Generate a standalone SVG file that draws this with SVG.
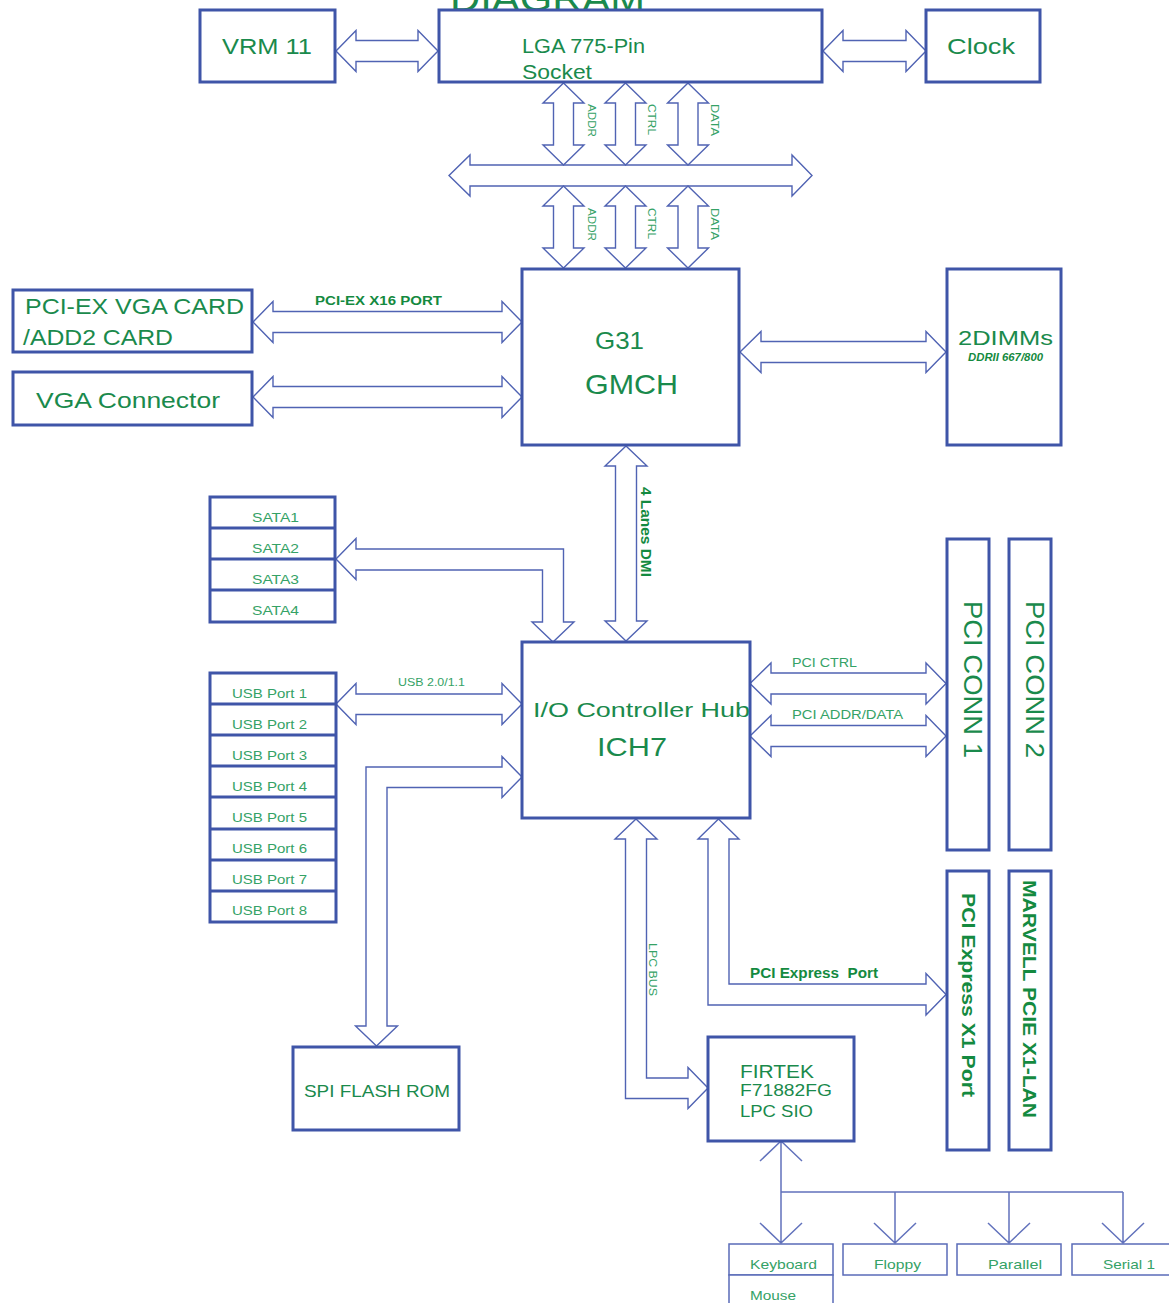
<svg xmlns="http://www.w3.org/2000/svg" width="1169" height="1303" viewBox="0 0 1169 1303">
<style>
.box{fill:#fff;stroke:#3F55A8;stroke-width:3}
.sbox{fill:#fff;stroke:#5A6BB8;stroke-width:1.5}
.div{stroke:#3F55A8;stroke-width:3}
.arr{fill:#fff;stroke:#5063B3;stroke-width:1.4;stroke-linejoin:miter}
.ln{fill:none;stroke:#6272BC;stroke-width:1.5}
text{font-family:"Liberation Sans",Arial,sans-serif;fill:#1A8A4C}
.s{fill:#35A266}
.b{font-weight:bold;fill:#148A40}
</style>
<rect width="1169" height="1303" fill="#fff"/>
<text x="450" y="11" font-size="36" textLength="195" lengthAdjust="spacingAndGlyphs">DIAGRAM</text>
<g id="connectors">
<path class="arr" d="M336,51 L356,30.5 L356,40.5 L418,40.5 L418,30.5 L438,51 L418,71.5 L418,61.5 L356,61.5 L356,71.5 Z"/>
<path class="arr" d="M823,51 L843,30.5 L843,40.5 L906,40.5 L906,30.5 L926,51 L906,71.5 L906,61.5 L843,61.5 L843,71.5 Z"/>
<path class="arr" d="M449,175.5 L470,155 L470,165 L792,165 L792,155 L812,175.5 L792,196 L792,186 L470,186 L470,196 Z"/>
<path class="arr" d="M563.5,83 L584,103 L573.5,103 L573.5,145 L584,145 L563.5,165 L543,145 L553.5,145 L553.5,103 L543,103 Z"/>
<path class="arr" d="M625.5,83 L646,103 L635.5,103 L635.5,145 L646,145 L625.5,165 L605,145 L615.5,145 L615.5,103 L605,103 Z"/>
<path class="arr" d="M688,83 L708.5,103 L698,103 L698,145 L708.5,145 L688,165 L667.5,145 L678,145 L678,103 L667.5,103 Z"/>
<path class="arr" d="M563.5,186 L584,206 L573.5,206 L573.5,248 L584,248 L563.5,268 L543,248 L553.5,248 L553.5,206 L543,206 Z"/>
<path class="arr" d="M625.5,186 L646,206 L635.5,206 L635.5,248 L646,248 L625.5,268 L605,248 L615.5,248 L615.5,206 L605,206 Z"/>
<path class="arr" d="M688,186 L708.5,206 L698,206 L698,248 L708.5,248 L688,268 L667.5,248 L678,248 L678,206 L667.5,206 Z"/>
<path class="arr" d="M253,322 L273,301.5 L273,311.5 L502,311.5 L502,301.5 L522,322 L502,342.5 L502,332.5 L273,332.5 L273,342.5 Z"/>
<path class="arr" d="M253,397 L273,376.5 L273,386.5 L502,386.5 L502,376.5 L522,397 L502,417.5 L502,407.5 L273,407.5 L273,417.5 Z"/>
<path class="arr" d="M740,352 L761,331.5 L761,341.5 L926,341.5 L926,331.5 L946,352 L926,372.5 L926,362.5 L761,362.5 L761,372.5 Z"/>
<path class="arr" d="M626,446 L647,466 L636.5,466 L636.5,621 L647,621 L626,641 L605,621 L615.5,621 L615.5,466 L605,466 Z"/>
<path class="arr" d="M336,559 L356,538.5 L356,549 L563.5,549 L563.5,622 L574,622 L553,642 L532,622 L542.5,622 L542.5,570 L356,570 L356,579.5 Z"/>
<path class="arr" d="M336,704 L356,683.5 L356,694 L502,694 L502,683.5 L522,704 L502,724.5 L502,714.5 L356,714.5 L356,724.5 Z"/>
<path class="arr" d="M522,777 L502,756.5 L502,767 L366,767 L366,1026 L355.5,1026 L376.5,1046 L397.5,1026 L387,1026 L387,787.5 L502,787.5 L502,797.5 Z"/>
<path class="arr" d="M750,683.5 L771,663 L771,673 L926,673 L926,663 L946,683.5 L926,704 L926,694 L771,694 L771,704 Z"/>
<path class="arr" d="M750,736 L771,715.5 L771,725.5 L926,725.5 L926,715.5 L946,736 L926,756.5 L926,746.5 L771,746.5 L771,756.5 Z"/>
<path class="arr" d="M636,819 L657,839 L646.5,839 L646.5,1078 L688,1078 L688,1067.5 L708,1088 L688,1108.5 L688,1098.5 L625.5,1098.5 L625.5,839 L615,839 Z"/>
<path class="arr" d="M718.5,819 L739,839 L729,839 L729,984 L926,984 L926,973.5 L946,994.5 L926,1015 L926,1005 L708,1005 L708,839 L698,839 Z"/>
<path class="ln" d="M781,1141 L781,1243 M760,1161 L781,1141 L802,1161 M781,1192 L1123,1192 M895,1192 L895,1243 M1009,1192 L1009,1243 M1123,1192 L1123,1243 M760,1223 L781,1243 L802,1223 M874,1223 L895,1243 L916,1223 M988,1223 L1009,1243 L1030,1223 M1102,1223 L1123,1243 L1144,1223"/>
</g>
<g id="vrm"><rect class="box" x="200" y="10" width="135" height="72"/><text x="222" y="54" font-size="22" textLength="90" lengthAdjust="spacingAndGlyphs">VRM 11</text></g>
<g id="cpu"><rect class="box" x="439" y="10" width="383" height="72"/><text x="522" y="53" font-size="20" textLength="123" lengthAdjust="spacingAndGlyphs">LGA 775-Pin</text><text x="522" y="79" font-size="20" textLength="70" lengthAdjust="spacingAndGlyphs">Socket</text></g>
<g id="clock"><rect class="box" x="926" y="10" width="114" height="72"/><text x="947" y="54" font-size="22" textLength="68" lengthAdjust="spacingAndGlyphs">Clock</text></g>
<g id="buslabels">
<text class="s" transform="translate(588,104) rotate(90)" font-size="11" textLength="33" lengthAdjust="spacingAndGlyphs">ADDR</text>
<text class="s" transform="translate(648,104) rotate(90)" font-size="11" textLength="31" lengthAdjust="spacingAndGlyphs">CTRL</text>
<text class="s" transform="translate(711,104) rotate(90)" font-size="11" textLength="32" lengthAdjust="spacingAndGlyphs">DATA</text>
<text class="s" transform="translate(588,208) rotate(90)" font-size="11" textLength="33" lengthAdjust="spacingAndGlyphs">ADDR</text>
<text class="s" transform="translate(648,208) rotate(90)" font-size="11" textLength="31" lengthAdjust="spacingAndGlyphs">CTRL</text>
<text class="s" transform="translate(711,208) rotate(90)" font-size="11" textLength="32" lengthAdjust="spacingAndGlyphs">DATA</text>
<text class="b" x="315" y="305" font-size="13" textLength="127" lengthAdjust="spacingAndGlyphs">PCI-EX X16 PORT</text>
<text class="b" transform="translate(641,487) rotate(90)" font-size="14" textLength="90" lengthAdjust="spacingAndGlyphs">4 Lanes DMI</text>
<text class="s" x="398" y="686" font-size="11" textLength="67" lengthAdjust="spacingAndGlyphs">USB 2.0/1.1</text>
<text class="s" x="792" y="667" font-size="13" textLength="65" lengthAdjust="spacingAndGlyphs">PCI CTRL</text>
<text class="s" x="792" y="719" font-size="13" textLength="111" lengthAdjust="spacingAndGlyphs">PCI ADDR/DATA</text>
<text class="s" transform="translate(649,943) rotate(90)" font-size="11" textLength="53" lengthAdjust="spacingAndGlyphs">LPC BUS</text>
<text class="b" x="750" y="978" font-size="14" xml:space="preserve" textLength="128" lengthAdjust="spacingAndGlyphs">PCI Express  Port</text>
</g>
<g id="pciex"><rect class="box" x="13" y="290" width="239" height="62"/><text x="25" y="314" font-size="22" textLength="219" lengthAdjust="spacingAndGlyphs">PCI-EX VGA CARD</text><text x="23" y="345" font-size="22" textLength="150" lengthAdjust="spacingAndGlyphs">/ADD2 CARD</text></g>
<g id="vga"><rect class="box" x="13" y="372" width="239" height="53"/><text x="36" y="408" font-size="22" textLength="184" lengthAdjust="spacingAndGlyphs">VGA Connector</text></g>
<g id="gmch"><rect class="box" x="522" y="269" width="217" height="176"/><text x="595" y="349" font-size="24" textLength="49" lengthAdjust="spacingAndGlyphs">G31</text><text x="585" y="394" font-size="28" textLength="93" lengthAdjust="spacingAndGlyphs">GMCH</text></g>
<g id="dimm"><rect class="box" x="947" y="269" width="114" height="176"/><text x="958" y="345" font-size="21" textLength="95" lengthAdjust="spacingAndGlyphs">2DIMMs</text><text class="b" x="968" y="361" font-size="11" font-style="italic" textLength="75" lengthAdjust="spacingAndGlyphs">DDRII 667/800</text></g>
<g id="sata"><rect class="box" x="210" y="497" width="125" height="125"/><line class="div" x1="210" y1="528" x2="335" y2="528"/><line class="div" x1="210" y1="559" x2="335" y2="559"/><line class="div" x1="210" y1="590" x2="335" y2="590"/>
<text class="s" x="252" y="522" font-size="13" textLength="47" lengthAdjust="spacingAndGlyphs">SATA1</text><text class="s" x="252" y="553" font-size="13" textLength="47" lengthAdjust="spacingAndGlyphs">SATA2</text><text class="s" x="252" y="584" font-size="13" textLength="47" lengthAdjust="spacingAndGlyphs">SATA3</text><text class="s" x="252" y="615" font-size="13" textLength="47" lengthAdjust="spacingAndGlyphs">SATA4</text></g>
<g id="usb"><rect class="box" x="210" y="673" width="126" height="249"/>
<line class="div" x1="210" y1="704" x2="336" y2="704"/><line class="div" x1="210" y1="735" x2="336" y2="735"/><line class="div" x1="210" y1="766" x2="336" y2="766"/><line class="div" x1="210" y1="797" x2="336" y2="797"/><line class="div" x1="210" y1="829" x2="336" y2="829"/><line class="div" x1="210" y1="860" x2="336" y2="860"/><line class="div" x1="210" y1="891" x2="336" y2="891"/>
<text class="s" x="232" y="698" font-size="13" textLength="75" lengthAdjust="spacingAndGlyphs">USB Port 1</text>
<text class="s" x="232" y="729" font-size="13" textLength="75" lengthAdjust="spacingAndGlyphs">USB Port 2</text>
<text class="s" x="232" y="760" font-size="13" textLength="75" lengthAdjust="spacingAndGlyphs">USB Port 3</text>
<text class="s" x="232" y="791" font-size="13" textLength="75" lengthAdjust="spacingAndGlyphs">USB Port 4</text>
<text class="s" x="232" y="822" font-size="13" textLength="75" lengthAdjust="spacingAndGlyphs">USB Port 5</text>
<text class="s" x="232" y="853" font-size="13" textLength="75" lengthAdjust="spacingAndGlyphs">USB Port 6</text>
<text class="s" x="232" y="884" font-size="13" textLength="75" lengthAdjust="spacingAndGlyphs">USB Port 7</text>
<text class="s" x="232" y="915" font-size="13" textLength="75" lengthAdjust="spacingAndGlyphs">USB Port 8</text></g>
<g id="ich"><rect class="box" x="522" y="642" width="228" height="176"/><text x="533" y="717" font-size="21" textLength="217" lengthAdjust="spacingAndGlyphs">I/O Controller Hub</text><text x="597" y="756" font-size="26" textLength="70" lengthAdjust="spacingAndGlyphs">ICH7</text></g>
<g id="pciconn1"><rect class="box" x="947" y="539" width="42" height="311"/><text transform="translate(964,601) rotate(90)" font-size="25" textLength="157" lengthAdjust="spacingAndGlyphs">PCI CONN 1</text></g>
<g id="pciconn2"><rect class="box" x="1009" y="539" width="42" height="311"/><text transform="translate(1026,601) rotate(90)" font-size="25" textLength="157" lengthAdjust="spacingAndGlyphs">PCI CONN 2</text></g>
<g id="pciex1"><rect class="box" x="947" y="871" width="42" height="279"/><text class="b" transform="translate(962,893) rotate(90)" font-size="18" textLength="204" lengthAdjust="spacingAndGlyphs">PCI Express X1 Port</text></g>
<g id="marvell"><rect class="box" x="1009" y="871" width="42" height="279"/><text class="b" transform="translate(1023,880) rotate(90)" font-size="18" textLength="238" lengthAdjust="spacingAndGlyphs">MARVELL PCIE X1-LAN</text></g>
<g id="sio"><rect class="box" x="708" y="1037" width="146" height="104"/><text x="740" y="1078" font-size="19" textLength="74" lengthAdjust="spacingAndGlyphs">FIRTEK</text><text x="740" y="1096" font-size="17" textLength="92" lengthAdjust="spacingAndGlyphs">F71882FG</text><text x="740" y="1117" font-size="17" textLength="73" lengthAdjust="spacingAndGlyphs">LPC SIO</text></g>
<g id="spi"><rect class="box" x="293" y="1047" width="166" height="83"/><text x="304" y="1097" font-size="17" textLength="146" lengthAdjust="spacingAndGlyphs">SPI FLASH ROM</text></g>
<g id="keyboard"><rect class="sbox" x="729" y="1244" width="104" height="31"/><text class="s" x="750" y="1269" font-size="13" textLength="67" lengthAdjust="spacingAndGlyphs">Keyboard</text></g>
<g id="mouse"><rect class="sbox" x="729" y="1275" width="104" height="40"/><text class="s" x="750" y="1300" font-size="13" textLength="46" lengthAdjust="spacingAndGlyphs">Mouse</text></g>
<g id="floppy"><rect class="sbox" x="843" y="1244" width="104" height="31"/><text class="s" x="874" y="1269" font-size="13" textLength="47" lengthAdjust="spacingAndGlyphs">Floppy</text></g>
<g id="parallel"><rect class="sbox" x="957" y="1244" width="104" height="31"/><text class="s" x="988" y="1269" font-size="13" textLength="54" lengthAdjust="spacingAndGlyphs">Parallel</text></g>
<g id="serial"><rect class="sbox" x="1072" y="1244" width="110" height="31"/><text class="s" x="1103" y="1269" font-size="13" textLength="52" lengthAdjust="spacingAndGlyphs">Serial 1</text></g>
</svg>
